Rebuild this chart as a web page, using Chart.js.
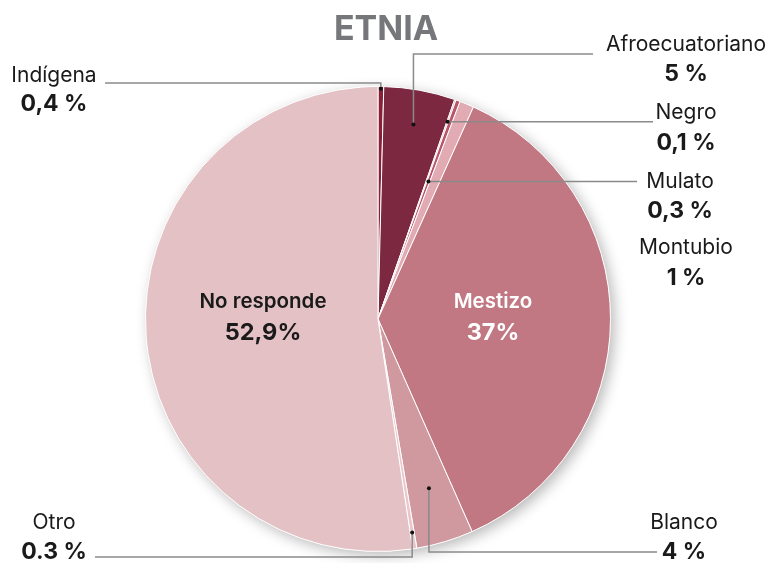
<!DOCTYPE html>
<html>
<head>
<meta charset="utf-8">
<script src="https://cdn.jsdelivr.net/npm/chart.js@4.4.0/dist/chart.umd.min.js"></script>
<style>
  html, body { margin: 0; padding: 0; background: #fff; }
  #wrap { width: 771px; height: 563px; position: relative; }
</style>
</head>
<body>
<div id="wrap"><canvas id="etnia"></canvas></div>
<script>
// datos
const categories = ['Indígena', 'Afroecuatoriano', 'Negro', 'Mulato', 'Montubio', 'Mestizo', 'Blanco', 'Otro', 'No responde'];
const values = [0.4, 5, 0.1, 0.3, 1, 37, 4, 0.3, 52.9];
const valueLabels = ['0,4 %', '5 %', '0,1 %', '0,3 %', '1 %', '37%', '4 %', '0.3 %', '52,9%'];
const sliceColors = ['#8a1f38', '#7b2840', '#d4909c', '#b9566a', '#e2aab3', '#c17882', '#d0999f', '#e9c7cb', '#e3c1c5'];

// where each outside label goes (text centre x, name y, value y) + leader line
const labelLayout = {
  0: { tx: 54, ny: 76, vy: 104, r: 0.99, path: 'up', turnY: 83, endX: 105 },
  1: { tx: 686, ny: 45, vy: 74, r: 0.85, path: 'up', turnY: 54, endX: 593 },
  2: { tx: 686, ny: 113, vy: 143, r: 0.90, path: 'flat', endX: 653 },
  3: { tx: 680, ny: 182, vy: 211, r: 0.63, path: 'flat', endX: 637 },
  4: { tx: 686, ny: 248, vy: 278, path: 'none' },
  6: { tx: 684, ny: 523, vy: 552, r: 0.76, path: 'down', turnY: 552, endX: 657 },
  7: { tx: 54, ny: 523, vy: 552, r: 0.93, path: 'down', turnY: 557, endX: 95 }
};

const FONT = 'Inter, "Noto Sans", sans-serif';

const pieShadow = {
  id: 'pieShadow',
  beforeDatasetsDraw(chart) {
    const arc = chart.getDatasetMeta(0).data[0];
    const ctx = chart.ctx;
    ctx.save();
    ctx.shadowColor = 'rgba(0,0,0,0.28)';
    ctx.shadowBlur = 14;
    ctx.shadowOffsetX = 4;
    ctx.shadowOffsetY = 4;
    ctx.fillStyle = '#fff';
    ctx.beginPath();
    ctx.arc(arc.x, arc.y, arc.outerRadius, 0, Math.PI * 2);
    ctx.fill();
    ctx.restore();
  }
};

const labelsPlugin = {
  id: 'etniaLabels',
  afterDatasetsDraw(chart) {
    const ctx = chart.ctx;
    const arcs = chart.getDatasetMeta(0).data;
    ctx.save();

    // titulo
    ctx.fillStyle = '#76777a';
    ctx.font = 'bold 34px ' + FONT;
    ctx.textAlign = 'center';
    ctx.textBaseline = 'middle';
    ctx.fillText('ETNIA', 386, 30);

    Object.keys(labelLayout).forEach(k => {
      const i = +k;
      const L = labelLayout[i];
      const a = arcs[i];
      ctx.fillStyle = '#1a1a1a';
      ctx.font = '21px ' + FONT;
      ctx.fillText(categories[i], L.tx, L.ny);
      ctx.font = 'bold 23px ' + FONT;
      ctx.fillText(valueLabels[i], L.tx, L.vy);
      if (L.path === 'none') return;

      const mid = (a.startAngle + a.endAngle) / 2;
      const px = a.x + Math.cos(mid) * a.outerRadius * L.r;
      const py = a.y + Math.sin(mid) * a.outerRadius * L.r;
      ctx.strokeStyle = '#8a8a8a';
      ctx.lineWidth = 1.5;
      ctx.beginPath();
      ctx.moveTo(px, py);
      if (L.path === 'flat') {
        ctx.lineTo(L.endX, py);
      } else {
        ctx.lineTo(px, L.turnY);
        ctx.lineTo(L.endX, L.turnY);
      }
      ctx.stroke();
      ctx.fillStyle = '#111';
      ctx.beginPath();
      ctx.arc(px, py, 2, 0, Math.PI * 2);
      ctx.fill();
    });

    // inside labels
    const inside = [[8, 263, '#1a1a1a'], [5, 493, '#ffffff']];
    inside.forEach(([i, x, col]) => {
      ctx.fillStyle = col;
      ctx.font = '600 20.5px ' + FONT;
      ctx.fillText(categories[i], x, 302);
      ctx.font = 'bold 23.5px ' + FONT;
      ctx.fillText(valueLabels[i], x, 333);
    });
    ctx.restore();
  }
};

new Chart(document.getElementById('etnia'), {
  type: 'pie',
  data: {
    labels: categories,
    datasets: [{
      data: values,
      backgroundColor: sliceColors,
      borderColor: '#ffffff',
      borderWidth: 1
    }]
  },
  options: {
    responsive: true,
    maintainAspectRatio: false,
    animation: false,
    layout: { padding: { left: 145, right: 160, top: 86, bottom: 11 } },
    plugins: {
      legend: { display: false },
      tooltip: { enabled: false },
      title: { display: false }
    }
  },
  plugins: [pieShadow, labelsPlugin]
});
</script>
</body>
</html>
